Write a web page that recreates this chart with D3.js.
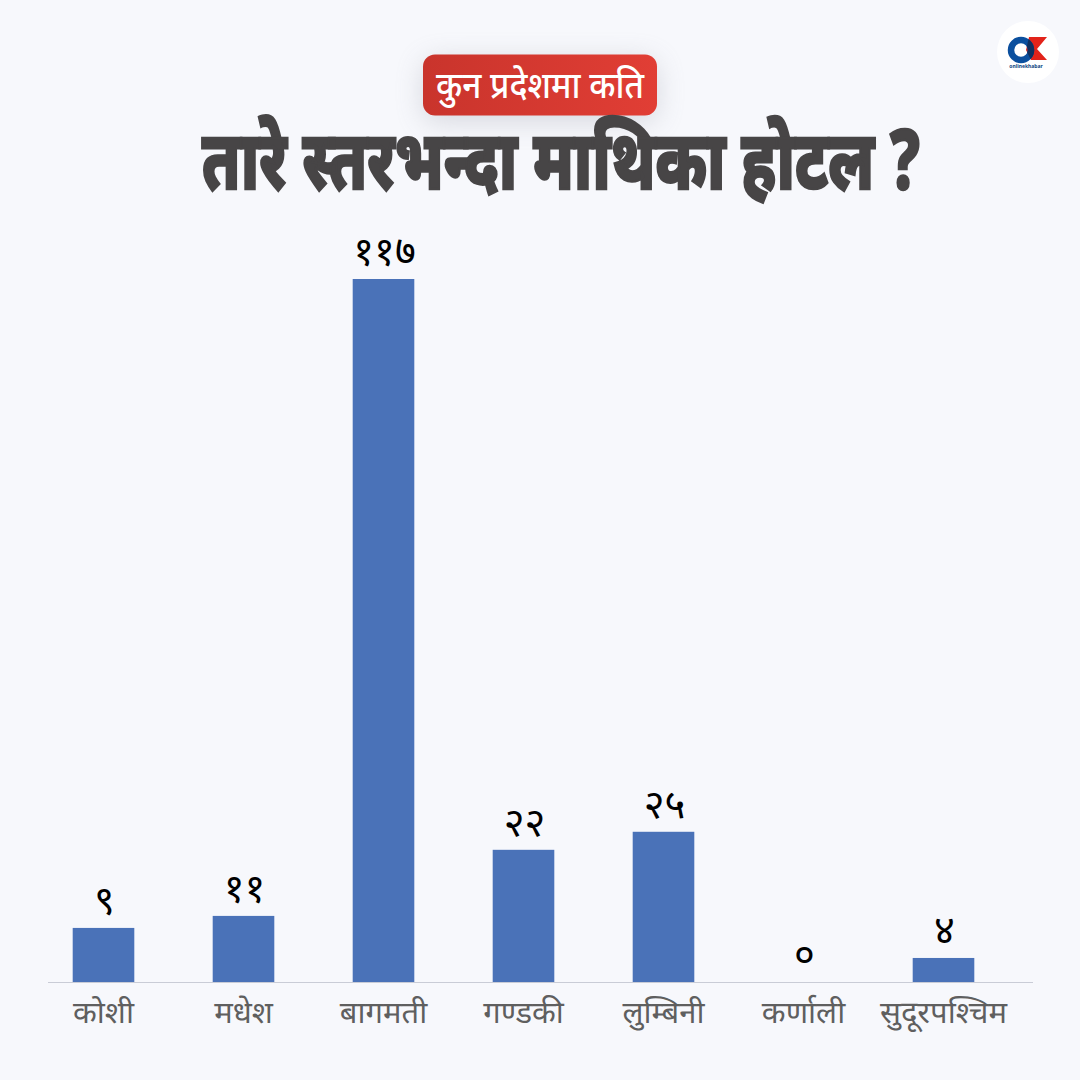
<!DOCTYPE html>
<html>
<head>
<meta charset="utf-8">
<script src="https://cdn.jsdelivr.net/npm/d3@7"></script>
<style>
  html, body { margin: 0; padding: 0; background: #f7f8fc; }
  svg { display: block; }
  text { font-family: "Noto Sans", "Noto Sans Devanagari", "Lohit Devanagari", "Open Sans", sans-serif; }
</style>
</head>
<body>
<div id="chart"></div>
<script>
var provinces = ['कोशी', 'मधेश', 'बागमती', 'गण्डकी', 'लुम्बिनी', 'कर्णाली', 'सुदूरपश्चिम'];
var hotels = [9, 11, 117, 22, 25, 0, 4];
var hotelLabels = ['९', '११', '११७', '२२', '२५', '०', '४'];
var badgeText = 'कुन प्रदेशमा कति';
var titleText = 'तारे स्तरभन्दा माथिका होटल ?';

var svg = d3.select('#chart').append('svg').attr('width', 1080).attr('height', 1080);
svg.append('rect').attr('width', 1080).attr('height', 1080).attr('fill', '#f7f8fc');

var defs = svg.append('defs');
var grad = defs.append('linearGradient').attr('id', 'badgeFill');
grad.append('stop').attr('offset', '0%').attr('stop-color', '#c9342c');
grad.append('stop').attr('offset', '100%').attr('stop-color', '#e13e35');
var blur = defs.append('filter').attr('id', 'soft').attr('x', '-30%').attr('y', '-60%').attr('width', '160%').attr('height', '240%');
blur.append('feGaussianBlur').attr('stdDeviation', 14);

var x = d3.scaleBand().domain(provinces).range([33.5, 1013.5]).paddingInner(0.56).paddingOuter(0.28);
var y = d3.scaleLinear().domain([0, 117]).range([982, 279]);

// bars
svg.selectAll('.bar').data(hotels).join('rect')
  .attr('class', 'bar')
  .attr('x', function(d, i) { return x(provinces[i]); })
  .attr('y', function(d) { return y(d); })
  .attr('width', x.bandwidth())
  .attr('height', function(d) { return y(0) - y(d); })
  .attr('fill', '#4a72b8');

// value labels
svg.selectAll('.val').data(hotels).join('text')
  .attr('class', 'val')
  .attr('x', function(d, i) { return x(provinces[i]) + x.bandwidth() / 2 + 1; })
  .attr('y', function(d) { return y(d) - 14; })
  .attr('text-anchor', 'middle')
  .attr('font-size', 40)
  .attr('font-weight', 400)
  .attr('fill', '#000')
  .text(function(d, i) { return hotelLabels[i]; });

// x axis
var axis = svg.append('g').attr('transform', 'translate(0,982.5)').call(d3.axisBottom(x).tickSize(0).tickPadding(18));
axis.select('.domain').remove();
axis.selectAll('text').attr('font-size', 31).attr('font-weight', 400).attr('fill', '#5f5f5f').style('font-family', null);
svg.append('line').attr('x1', 48).attr('x2', 1033).attr('y1', 982.5).attr('y2', 982.5)
  .attr('stroke', '#c9ccd6').attr('stroke-width', 1.2);

// squeeze a heading to its width, the original face is a condensed one
function fitText(sel, left, width) {
  var w = sel.node().getComputedTextLength();
  sel.attr('transform', 'translate(' + left + ',' + sel.attr('data-y') + ') scale(' + (width / w) + ',1)');
}

// header
svg.append('rect').attr('x', 423).attr('y', 60).attr('width', 234).attr('height', 62).attr('rx', 12)
  .attr('fill', '#8c8f9c').attr('opacity', 0.3).attr('filter', 'url(#soft)');
svg.append('rect').attr('x', 423).attr('y', 54.5).attr('width', 234).attr('height', 61).attr('rx', 12)
  .attr('fill', 'url(#badgeFill)');
var badge = svg.append('text').attr('data-y', 98)
  .attr('font-size', 37).attr('font-weight', 500).attr('fill', '#fff').text(badgeText);
fitText(badge, 436, 208);
var title = svg.append('text').attr('data-y', 189)
  .attr('font-size', 82).attr('font-weight', 800).attr('fill', '#474546')
  .attr('stroke', '#474546').attr('stroke-width', 2.5).text(titleText);
fitText(title, 202, 718);

// logo
var kShape = 'M1029 37 H1047 L1037 49 L1047 60 H1031 L1026 50 Z';
defs.append('clipPath').attr('id', 'kClip').append('path').attr('d', kShape);
var logo = svg.append('g');
logo.append('circle').attr('cx', 1028).attr('cy', 52).attr('r', 31).attr('fill', '#fff');
logo.append('path').attr('d', kShape).attr('fill', '#e2231a');
logo.append('circle').attr('cx', 1021).attr('cy', 50).attr('r', 10).attr('fill', 'none')
  .attr('stroke', '#0b4f9e').attr('stroke-width', 6.5);
logo.append('circle').attr('cx', 1021).attr('cy', 50).attr('r', 10).attr('fill', 'none')
  .attr('stroke', '#10305f').attr('stroke-width', 6.5).attr('clip-path', 'url(#kClip)');
logo.append('text').attr('x', 1026).attr('y', 68).attr('text-anchor', 'middle')
  .attr('font-size', 5).attr('font-weight', 700).attr('fill', '#0b3f80').text('onlinekhabar');
</script>
</body>
</html>
